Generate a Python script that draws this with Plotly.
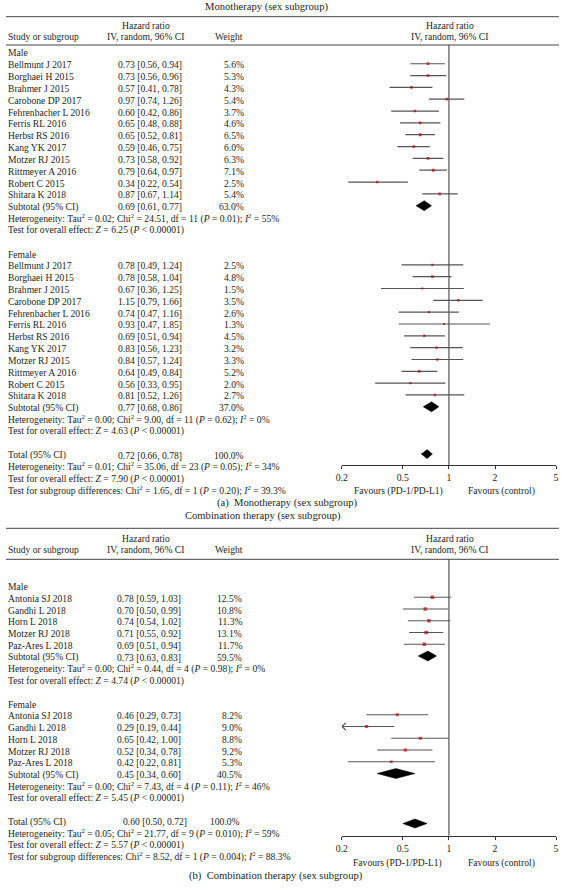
import math
import plotly.graph_objects as go

W, H = 562, 890
FONT = "Liberation Serif"
TXT = "#231f20"
FS = 9.6

# ---------------- data: (a) Monotherapy ----------------
a_studies = ["Bellmunt J 2017", "Borghaei H 2015", "Brahmer J 2015", "Carobone DP 2017",
             "Fehrenbacher L 2016", "Ferris RL 2016", "Herbst RS 2016", "Kang YK 2017",
             "Motzer RJ 2015", "Rittmeyer A 2016", "Robert C 2015", "Shitara K 2018"]
a_m_hr = [0.73, 0.73, 0.57, 0.97, 0.60, 0.65, 0.65, 0.59, 0.73, 0.79, 0.34, 0.87]
a_m_lo = [0.56, 0.56, 0.41, 0.74, 0.42, 0.48, 0.52, 0.46, 0.58, 0.64, 0.22, 0.67]
a_m_hi = [0.94, 0.96, 0.78, 1.26, 0.86, 0.88, 0.81, 0.75, 0.92, 0.97, 0.54, 1.14]
a_m_w = [5.6, 5.3, 4.3, 5.4, 3.7, 4.6, 6.5, 6.0, 6.3, 7.1, 2.5, 5.4]
a_f_hr = [0.78, 0.78, 0.67, 1.15, 0.74, 0.93, 0.69, 0.83, 0.84, 0.64, 0.56, 0.81]
a_f_lo = [0.49, 0.58, 0.36, 0.79, 0.47, 0.47, 0.51, 0.56, 0.57, 0.49, 0.33, 0.52]
a_f_hi = [1.24, 1.04, 1.25, 1.66, 1.16, 1.85, 0.94, 1.23, 1.24, 0.84, 0.95, 1.26]
a_f_w = [2.5, 4.8, 1.5, 3.5, 2.6, 1.3, 4.5, 3.2, 3.3, 5.2, 2.0, 2.7]
a_sub_m = (0.69, 0.61, 0.77, 63.0)
a_sub_f = (0.77, 0.68, 0.86, 37.0)
a_total = (0.72, 0.66, 0.78, 100.0)
a_het_m = "Tau<sup>2</sup> = 0.02; Chi<sup>2</sup> = 24.51, df = 11 (<i>P</i> = 0.01); <i>I</i><sup>2</sup> = 55%"
a_z_m = "<i>Z</i> = 6.25 (<i>P</i> &lt; 0.00001)"
a_het_f = "Tau<sup>2</sup> = 0.00; Chi<sup>2</sup> = 9.00, df = 11 (<i>P</i> = 0.62); <i>I</i><sup>2</sup> = 0%"
a_z_f = "<i>Z</i> = 4.63 (<i>P</i> &lt; 0.00001)"
a_het_t = "Tau<sup>2</sup> = 0.01; Chi<sup>2</sup> = 35.06, df = 23 (<i>P</i> = 0.05); <i>I</i><sup>2</sup> = 34%"
a_z_t = "<i>Z</i> = 7.90 (<i>P</i> &lt; 0.00001)"
a_sg = "Chi<sup>2</sup> = 1.65, df = 1 (<i>P</i> = 0.20); <i>I</i><sup>2</sup> = 39.3%"

# ---------------- data: (b) Combination therapy ----------------
b_studies = ["Antonia SJ 2018", "Gandhi L 2018", "Horn L 2018", "Motzer RJ 2018", "Paz-Ares L 2018"]
b_m_hr = [0.78, 0.70, 0.74, 0.71, 0.69]
b_m_lo = [0.59, 0.50, 0.54, 0.55, 0.51]
b_m_hi = [1.03, 0.99, 1.02, 0.92, 0.94]
b_m_w = [12.5, 10.8, 11.3, 13.1, 11.7]
b_f_hr = [0.46, 0.29, 0.65, 0.52, 0.42]
b_f_lo = [0.29, 0.19, 0.42, 0.34, 0.22]
b_f_hi = [0.73, 0.44, 1.00, 0.78, 0.81]
b_f_w = [8.2, 9.0, 8.8, 9.2, 5.3]
b_sub_m = (0.73, 0.63, 0.83, 59.5)
b_sub_f = (0.45, 0.34, 0.60, 40.5)
b_total = (0.60, 0.50, 0.72, 100.0)
b_het_m = "Tau<sup>2</sup> = 0.00; Chi<sup>2</sup> = 0.44, df = 4 (<i>P</i> = 0.98); <i>I</i><sup>2</sup> = 0%"
b_z_m = "<i>Z</i> = 4.74 (<i>P</i> &lt; 0.00001)"
b_het_f = "Tau<sup>2</sup> = 0.00; Chi<sup>2</sup> = 7.43, df = 4 (<i>P</i> = 0.11); <i>I</i><sup>2</sup> = 46%"
b_z_f = "<i>Z</i> = 5.45 (<i>P</i> &lt; 0.00001)"
b_het_t = "Tau<sup>2</sup> = 0.05; Chi<sup>2</sup> = 21.77, df = 9 (<i>P</i> = 0.010); <i>I</i><sup>2</sup> = 59%"
b_z_t = "<i>Z</i> = 5.57 (<i>P</i> &lt; 0.00001)"
b_sg = "Chi<sup>2</sup> = 8.52, df = 1 (<i>P</i> = 0.004); <i>I</i><sup>2</sup> = 88.3%"

tick_vals = [0.2, 0.5, 1, 2, 5]
tick_text = ["0.2", "0.5", "1", "2", "5"]
x_min, x_max = 0.2, 5

# ---------------- layout geometry (pixels) ----------------
PLOT_L, PLOT_R = 341.3, 559.0
DEC_PX = (PLOT_R - PLOT_L) / (math.log10(x_max) - math.log10(x_min))

fig = go.Figure()
ann = []
shapes = []


def px(x):
    return x / W


def text(x, y, s, anchor="left", size=FS):
    ann.append(dict(x=px(x), y=y, xref="paper", yref="y", text=s, showarrow=False,
                    xanchor=anchor, yanchor="middle", borderpad=0,
                    font=dict(family=FONT, size=size, color=TXT)))


def hline(y):
    shapes.append(dict(type="line", xref="paper", yref="y", x0=0, x1=1, y0=y, y1=y,
                       line=dict(color="#444", width=1)))


def fmt(hr, lo, hi):
    return f"{hr:.2f} [{lo:.2f}, {hi:.2f}]"


def panel(cfg):
    xa = cfg["xaxis"]
    r0, step = cfg["row0"], cfg["step"]
    row = lambda i: r0 + i * step
    hx_l, hx_w = cfg["hr_x"], cfg["w_x"]
    # header
    text(cfg["title_x"], cfg["title_y"], cfg["title"], "center", 10.6)
    hline(cfg["top"])
    hline(cfg["hdr_bot"])
    y1 = (cfg["top"] + cfg["hdr_bot"]) / 2 - 5
    y2 = y1 + 10.5
    text(1, y2, "Study or subgroup")
    text(142, y1, "Hazard ratio", "center")
    text(142, y2, "IV, random, 96% CI", "center")
    text(cfg["w_hdr"], y2, "Weight", "center")
    text(451, y1, "Hazard ratio", "center")
    text(451, y2, "IV, random, 96% CI", "center")

    n = len(cfg["studies"])
    ci_x, ci_y, mk_x, mk_y, mk_s = [], [], [], [], []
    diamonds = []
    arrows = []
    groups = [("Male", cfg["m"], cfg["sub_m"], cfg["het_m"], cfg["z_m"], 0),
              ("Female", cfg["f"], cfg["sub_f"], cfg["het_f"], cfg["z_f"], n + 5)]
    for label, (hr, lo, hi, w), sub, het, z, base in groups:
        text(1, row(base) + 1, label)
        for i in range(n):
            y = row(base + 1 + i)
            text(1, y + 1, cfg["studies"][i])
            text(hx_l, y + 1, fmt(hr[i], lo[i], hi[i]))
            text(hx_w, y + 1, f"{w[i]:.1f}%", "right")
            l = max(lo[i], x_min)
            ci_x += [l, min(hi[i], x_max), None]
            ci_y += [y, y, None]
            if lo[i] < x_min:
                arrows.append(y)
            mk_x.append(hr[i]); mk_y.append(y); mk_s.append(2.0 + 0.13 * w[i])
        ys = row(base + 1 + n)
        text(1, ys + 1, "Subtotal (95% CI)")
        text(hx_l, ys + 1, fmt(*sub[:3]))
        text(hx_w, ys + 1, f"{sub[3]:.1f}%", "right")
        diamonds.append((sub, ys, 5))
        text(1, row(base + 2 + n) + 1, "Heterogeneity: " + het)
        text(1, row(base + 3 + n) + 1, "Test for overall effect: " + z)
    tb = 2 * n + 10
    yt = row(tb)
    text(1, yt + 1, "Total (95% CI)")
    text(cfg["tot_hr_x"], yt + 1, fmt(*cfg["total"][:3]))
    text(cfg["tot_w_x"], yt + 1, f"{cfg['total'][3]:.1f}%", "right")
    diamonds.append((cfg["total"], yt + cfg["tot_dy"], 4.5))
    text(1, row(tb + 1) + 1, "Heterogeneity: " + cfg["het_t"])
    text(1, row(tb + 2) + 1, "Test for overall effect: " + cfg["z_t"])
    text(1, row(tb + 3) + 1, "Test for subgroup differences: " + cfg["sg"])

    # null line
    fig.add_trace(go.Scatter(x=[1, 1], y=[cfg["hdr_bot"], cfg["axis_y"]], mode="lines",
                             line=dict(color="#333", width=1), xaxis=xa, yaxis="y",
                             hoverinfo="skip", showlegend=False))
    # CI lines
    fig.add_trace(go.Scatter(x=ci_x, y=ci_y, mode="lines", line=dict(color="#555", width=1.2),
                             xaxis=xa, yaxis="y", hoverinfo="skip", showlegend=False))
    # arrows for truncated CIs
    for y in arrows:
        dx = x_min * 10 ** (4 / DEC_PX)
        fig.add_trace(go.Scatter(x=[dx, x_min, dx], y=[y - 3.5, y, y + 3.5], mode="lines",
                                 line=dict(color="#555", width=1.1), xaxis=xa, yaxis="y",
                                 hoverinfo="skip", showlegend=False, cliponaxis=False))
    # markers
    fig.add_trace(go.Scatter(x=mk_x, y=mk_y, mode="markers",
                             marker=dict(symbol="square", size=mk_s, color="#b00a0a", line=dict(width=0)),
                             xaxis=xa, yaxis="y", hoverinfo="skip", showlegend=False))
    # diamonds
    for (hr, lo, hi, _), y, h in diamonds:
        fig.add_trace(go.Scatter(x=[lo, hr, hi, hr, lo], y=[y, y - h, y, y + h, y], mode="lines",
                                 fill="toself", fillcolor="black", line=dict(color="black", width=0.5),
                                 xaxis=xa, yaxis="y", hoverinfo="skip", showlegend=False))
    # favours labels
    text(cfg["fav_l"], cfg["fav_y"], "Favours (PD-1/PD-L1)", "center")
    text(503.7, cfg["fav_y"], "Favours (control)", "center")
    text(cfg["cap_x"], cfg["cap_y"], cfg["caption"], "center", 10.6)


panel(dict(xaxis="x", title="Monotherapy (sex subgroup)", title_x=265, title_y=7, top=16.7, hdr_bot=45,
           row0=51.9, step=11.83, hr_x=113, w_x=243, w_hdr=226.5, tot_hr_x=113, tot_w_x=243, tot_dy=0,
           studies=a_studies, m=(a_m_hr, a_m_lo, a_m_hi, a_m_w), f=(a_f_hr, a_f_lo, a_f_hi, a_f_w),
           sub_m=a_sub_m, sub_f=a_sub_f, total=a_total, het_m=a_het_m, z_m=a_z_m, het_f=a_het_f,
           z_f=a_z_f, het_t=a_het_t, z_t=a_z_t, sg=a_sg, axis_y=465, fav_l=399.3, fav_y=490.7,
           caption="(a)  Monotherapy (sex subgroup)", cap_x=286, cap_y=503.3))

panel(dict(xaxis="x2", title="Combination therapy (sex subgroup)", title_x=261, title_y=515.5, top=528.3,
           hdr_bot=559.3, row0=585.5, step=11.75, hr_x=112, w_x=241, w_hdr=226.5, tot_hr_x=118,
           tot_w_x=238.5, tot_dy=3,
           studies=b_studies, m=(b_m_hr, b_m_lo, b_m_hi, b_m_w), f=(b_f_hr, b_f_lo, b_f_hi, b_f_w),
           sub_m=b_sub_m, sub_f=b_sub_f, total=b_total, het_m=b_het_m, z_m=b_z_m, het_f=b_het_f,
           z_f=b_z_f, het_t=b_het_t, z_t=b_z_t, sg=b_sg, axis_y=835.7, fav_l=397.7, fav_y=862.7,
           caption="(b)  Combination therapy (sex subgroup)", cap_x=274.5, cap_y=876))

xa_common = dict(type="log", range=[math.log10(x_min), math.log10(x_max)],
                 domain=[PLOT_L / W, PLOT_R / W], anchor="free", showline=True, linecolor="#333",
                 linewidth=1.2, ticks="outside", ticklen=3, tickcolor="#333", tickwidth=1.2,
                 tickvals=tick_vals, ticktext=tick_text, showgrid=False, zeroline=False,
                 tickfont=dict(family=FONT, size=9.8, color=TXT), fixedrange=True)

fig.update_layout(
    width=W, height=H, margin=dict(l=0, r=0, t=0, b=0),
    paper_bgcolor="white", plot_bgcolor="rgba(0,0,0,0)",
    xaxis=dict(**xa_common, position=1 - 465 / H),
    xaxis2=dict(**xa_common, position=1 - 835.7 / H),
    yaxis=dict(range=[H, 0], domain=[0, 1], visible=False, fixedrange=True),
    annotations=ann, shapes=shapes, showlegend=False,
)

fig.write_html("out.html", config={"displayModeBar": False},
               post_script="document.body.style.margin='0';document.body.style.overflow='hidden';")
